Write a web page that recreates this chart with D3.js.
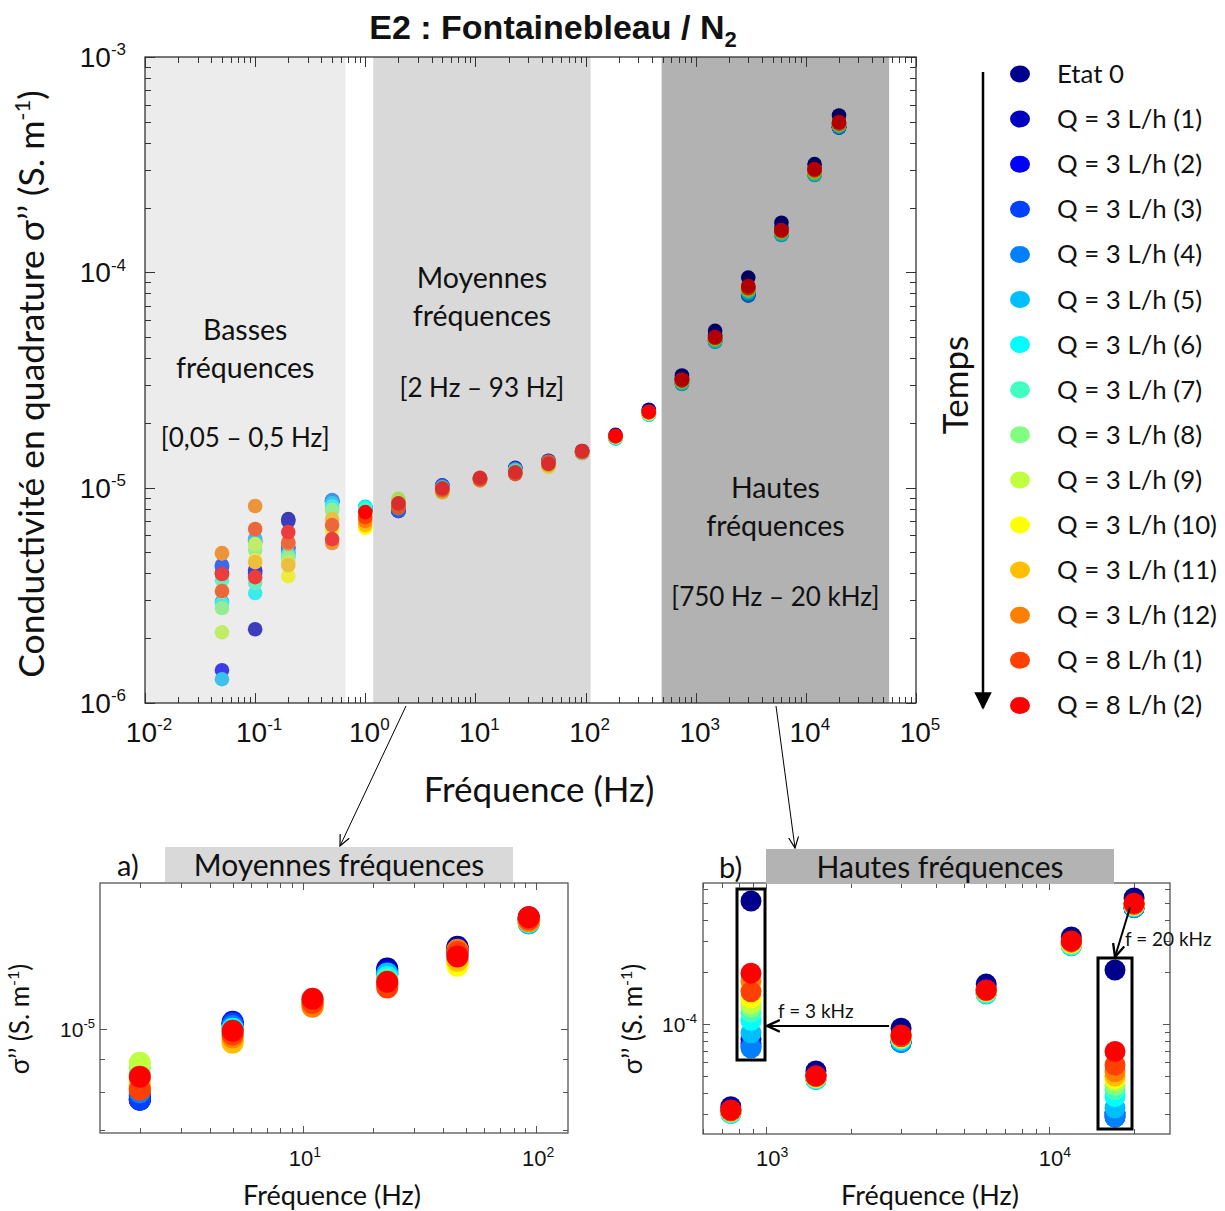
<!DOCTYPE html>
<html><head><meta charset="utf-8">
<script src="https://cdn.jsdelivr.net/npm/d3@7/dist/d3.min.js"></script>
<style>
body{margin:0;background:#fff}
svg{display:block}
text{font-family:Lato,"Open Sans",sans-serif;fill:#111}
.narrow{font-family:"Liberation Sans Narrow","Arial Narrow","Liberation Sans",sans-serif}
</style>
</head><body>
<svg id="chart" width="1225" height="1211"></svg>
<script>
// ---------------- DATA ----------------
const freqs = [0.05,0.1,0.2,0.5,1,2,5,11,23,46,93,187,375,750,1500,3000,6000,12000,20000];
const seriesNames = ["Etat 0","Q = 3 L/h (1)","Q = 3 L/h (2)","Q = 3 L/h (3)","Q = 3 L/h (4)","Q = 3 L/h (5)",
  "Q = 3 L/h (6)","Q = 3 L/h (7)","Q = 3 L/h (8)","Q = 3 L/h (9)","Q = 3 L/h (10)","Q = 3 L/h (11)",
  "Q = 3 L/h (12)","Q = 8 L/h (1)","Q = 8 L/h (2)"];
const seriesColors = ["#00008c","#0000bf","#0000ff","#0040ff","#0080ff","#00bfff","#00ffff","#40ffbf",
  "#80ff80","#bfff40","#ffff00","#ffbf00","#ff8000","#ff4000","#ff0000"];

const etat0 = [4.0e-6,4.14e-6,7.14e-6,8.6e-6,7.9e-6,7.9e-6,1.02e-5,1.10e-5,1.236e-5,1.334e-5,1.48e-5,1.76e-5,2.30e-5,3.32e-5,5.35e-5,9.45e-5,1.70e-4,3.18e-4,5.35e-4];
const q3_1  = [4.3e-6,2.2e-6,7.0e-6,8.7e-6,7.9e-6,7.8e-6,1.02e-5,1.10e-5,1.23e-5,1.33e-5,1.47e-5,1.74e-5,2.27e-5,3.22e-5,5.10e-5,7.90e-5,1.60e-4,3.00e-4,4.72e-4];
const q3_2  = [1.42e-6,4.0e-6,5.3e-6,8.6e-6,7.9e-6,7.8e-6,1.025e-5,1.10e-5,1.22e-5,1.32e-5,1.47e-5,1.73e-5,2.25e-5,3.15e-5,4.95e-5,7.85e-5,1.55e-4,2.92e-4,4.71e-4];
const q3_3  = [4.37e-6,5.6e-6,5.24e-6,8.7e-6,8.0e-6,7.79e-6,1.02e-5,1.10e-5,1.21e-5,1.31e-5,1.47e-5,1.72e-5,2.23e-5,3.10e-5,4.85e-5,7.82e-5,1.52e-4,2.88e-4,4.70e-4];
const q3_4  = [2.95e-6,5.71e-6,5.0e-6,8.75e-6,8.1e-6,8.0e-6,1.01e-5,1.10e-5,1.21e-5,1.30e-5,1.45e-5,1.70e-5,2.20e-5,3.05e-5,4.78e-5,7.80e-5,1.50e-4,2.85e-4,4.70e-4];
const q3_5  = [1.29e-6,5.8e-6,4.9e-6,8.48e-6,8.15e-6,8.2e-6,1.0e-5,1.10e-5,1.215e-5,1.29e-5,1.45e-5,1.69e-5,2.18e-5,3.03e-5,4.76e-5,7.97e-5,1.49e-4,2.83e-4,4.74e-4];
const q3_6  = [2.91e-6,3.24e-6,4.8e-6,8.2e-6,8.1e-6,8.3e-6,1.0e-5,1.10e-5,1.20e-5,1.28e-5,1.455e-5,1.70e-5,2.19e-5,3.05e-5,4.80e-5,8.11e-5,1.50e-4,2.85e-4,4.79e-4];
const q3_7  = [3.72e-6,3.61e-6,4.86e-6,7.9e-6,7.9e-6,8.5e-6,9.9e-6,1.10e-5,1.19e-5,1.27e-5,1.46e-5,1.71e-5,2.20e-5,3.08e-5,4.85e-5,8.20e-5,1.52e-4,2.88e-4,4.82e-4];
const q3_8  = [2.76e-6,5.13e-6,4.7e-6,7.87e-6,7.6e-6,8.7e-6,9.8e-6,1.10e-5,1.18e-5,1.26e-5,1.46e-5,1.72e-5,2.21e-5,3.10e-5,4.88e-5,8.26e-5,1.53e-4,2.90e-4,4.84e-4];
const q3_9  = [2.13e-6,5.47e-6,4.5e-6,6.4e-6,7.2e-6,8.87e-6,9.6e-6,1.10e-5,1.18e-5,1.255e-5,1.46e-5,1.72e-5,2.22e-5,3.12e-5,4.90e-5,8.30e-5,1.54e-4,2.92e-4,4.86e-4];
const q3_10 = [3.3e-6,4.6e-6,3.88e-6,6.35e-6,6.5e-6,8.3e-6,9.55e-6,1.09e-5,1.17e-5,1.248e-5,1.46e-5,1.72e-5,2.22e-5,3.13e-5,4.92e-5,8.36e-5,1.55e-4,2.94e-4,4.87e-4];
const q3_11 = [4.95e-6,4.51e-6,4.37e-6,7.14e-6,6.7e-6,8.2e-6,9.52e-6,1.085e-5,1.17e-5,1.27e-5,1.46e-5,1.73e-5,2.23e-5,3.14e-5,4.94e-5,8.45e-5,1.55e-4,2.96e-4,4.88e-4];
const q3_12 = [4.97e-6,8.22e-6,5.5e-6,5.53e-6,7.0e-6,8.1e-6,9.7e-6,1.081e-5,1.17e-5,1.32e-5,1.46e-5,1.73e-5,2.24e-5,3.15e-5,4.96e-5,8.55e-5,1.56e-4,2.98e-4,4.90e-4];
const q8_1  = [3.31e-6,6.43e-6,5.59e-6,6.70e-6,7.3e-6,8.07e-6,9.8e-6,1.095e-5,1.156e-5,1.31e-5,1.47e-5,1.73e-5,2.24e-5,3.15e-5,4.97e-5,8.43e-5,1.56e-4,2.99e-4,4.93e-4];
const q8_2  = [3.97e-6,3.84e-6,6.22e-6,5.77e-6,7.7e-6,8.45e-6,9.93e-6,1.111e-5,1.18e-5,1.29e-5,1.48e-5,1.74e-5,2.25e-5,3.18e-5,5.01e-5,8.64e-5,1.57e-4,3.02e-4,4.99e-4];

const bandNames = [["Basses","fréquences"],["Moyennes","fréquences"],["Hautes","fréquences"]];
const bandRangeLabels = ["[0,05 – 0,5 Hz]","[2 Hz – 93 Hz]","[750 Hz – 20 kHz]"];
const bandLo = [0.01, 1.18, 490];
const bandHi = [0.66, 111, 57000];
const zoomFreqs = [3000, 20000];
const zoomLabels = ["f = 3 kHz","f = 20 kHz"];

const mainXTicks = [-2,-1,0,1,2,3,4,5];
const mainYTicks = [-6,-5,-4,-3];

// ---------------- DRAW ----------------
const allSeries = [etat0,q3_1,q3_2,q3_3,q3_4,q3_5,q3_6,q3_7,q3_8,q3_9,q3_10,q3_11,q3_12,q8_1,q8_2];
const svg = d3.select("#chart");
svg.append("rect").attr("width",1225).attr("height",1211).attr("fill","#fff");

function logTicks(dom){
  const out=[]; const a=Math.min(...dom), b=Math.max(...dom);
  for(let e=Math.floor(Math.log10(a)); e<=Math.ceil(Math.log10(b)); e++){
    for(let m=1;m<10;m++){ const v=m*Math.pow(10,e); if(v>=a*0.9999 && v<=b*1.0001) out.push({v,major:m===1,e}); }
  }
  return out;
}
function powText(sel, e, base, sup){
  sel.append("tspan").attr("font-size",base).text("10");
  sel.append("tspan").attr("font-size",sup).attr("dy",-base*0.42).text(e);
}
function drawFrame(g, xs, ys, maj, mnr, col){
  const [x0,x1]=xs.range(), [y0,y1]=ys.range();
  const tk=g.append("g").attr("stroke",col).attr("stroke-width",1);
  logTicks(xs.domain()).forEach(t=>{
    const p=Math.round(xs(t.v))+0.5, L=t.major?maj:mnr;
    tk.append("line").attr("x1",p).attr("x2",p).attr("y1",y0).attr("y2",y0-L);
    tk.append("line").attr("x1",p).attr("x2",p).attr("y1",y1).attr("y2",y1+L);
  });
  logTicks(ys.domain()).forEach(t=>{
    const p=Math.round(ys(t.v))+0.5, L=t.major?maj:mnr;
    tk.append("line").attr("y1",p).attr("y2",p).attr("x1",x0).attr("x2",x0+L);
    tk.append("line").attr("y1",p).attr("y2",p).attr("x1",x1).attr("x2",x1-L);
  });
  g.append("rect").attr("x",x0).attr("y",y1).attr("width",x1-x0).attr("height",y0-y1)
    .attr("fill","none").attr("stroke",col).attr("stroke-width",1.3);
}

// ---- main plot ----
const x = d3.scaleLog().domain([1e-2,1e5]).range([145,916]);
const y = d3.scaleLog().domain([1e-6,1e-3]).range([703,57]);
const gMain = svg.append("g");
allSeries.forEach((vals,i)=>{
  gMain.append("g").selectAll("circle").data(vals.map((v,j)=>({f:freqs[j],v})))
    .join("circle").attr("cx",d=>x(d.f)).attr("cy",d=>y(d.v)).attr("r",7.3).attr("fill",seriesColors[i]);
});
const bandFill = ["rgba(193,193,193,0.31)","rgba(138,138,138,0.325)","rgba(0,0,0,0.3)"];
bandLo.forEach((lo,i)=>{
  gMain.append("rect").attr("x",x(lo)).attr("y",57).attr("width",x(bandHi[i])-x(lo)).attr("height",703-57)
    .attr("fill",bandFill[i]);
});
drawFrame(gMain, x, y, 10, 6, "#333");
// band labels
bandLo.forEach((lo,i)=>{
  const cx = (x(lo)+x(bandHi[i]))/2;
  const tops = [340,288,498][i], rng=[447,397,606][i];
  gMain.append("text").attr("x",cx).attr("y",tops).attr("text-anchor","middle").attr("font-size",28.5).text(bandNames[i][0]);
  gMain.append("text").attr("x",cx).attr("y",tops+38).attr("text-anchor","middle").attr("font-size",28.5).text(bandNames[i][1]);
  gMain.append("text").attr("x",cx).attr("y",rng).attr("text-anchor","middle").attr("font-size",26).text(bandRangeLabels[i]);
});
// tick labels
mainXTicks.forEach(e=>{
  const t=gMain.append("text").attr("class","narrow").attr("x",x(Math.pow(10,e))+4).attr("y",742).attr("text-anchor","middle");
  powText(t,e,28,17);
});
mainYTicks.forEach(e=>{
  const t=gMain.append("text").attr("class","narrow").attr("x",126).attr("y",y(Math.pow(10,e))+10).attr("text-anchor","end");
  powText(t,e,28,17);
});
// title
const title = svg.append("text").attr("class","narrow").attr("x",553).attr("y",39).attr("text-anchor","middle")
  .attr("font-size",34).attr("font-weight","bold");
title.append("tspan").text("E2 : Fontainebleau / N");
title.append("tspan").attr("font-size",22).attr("dy",8).text("2");
// axis titles
svg.append("text").attr("x",539).attr("y",802).attr("text-anchor","middle").attr("font-size",35).text("Fréquence (Hz)");
const yt = svg.append("text").attr("transform","translate(44,384) rotate(-90)").attr("text-anchor","middle").attr("font-size",35.5);
yt.append("tspan").text("Conductivité en quadrature σ’’ (S. m");
yt.append("tspan").attr("font-size",22).attr("dy",-14).text("-1");
yt.append("tspan").attr("dy",14).text(")");

// ---- legend ----
const leg = svg.append("g");
seriesNames.forEach((n,i)=>{
  const yy = 74 + i*45.1;
  leg.append("ellipse").attr("cx",1020).attr("cy",yy).attr("rx",10).attr("ry",8.5).attr("fill",seriesColors[i]);
  leg.append("text").attr("x",1057).attr("y",yy+9).attr("font-size",25.8).text(n);
});
svg.append("defs").html(`
 <marker id="ahead" viewBox="0 0 10 10" refX="9" refY="5" markerWidth="7" markerHeight="7" orient="auto-start-reverse">
   <path d="M0,0 L10,5 L0,10 z" fill="#000"/></marker>
 <marker id="vhead" viewBox="0 0 12 12" refX="11" refY="6" markerWidth="12" markerHeight="12" markerUnits="userSpaceOnUse" orient="auto">
   <path d="M0,1 L11,6 L0,11" fill="none" stroke="#000" stroke-width="1.2"/></marker>
 <marker id="vhead2" viewBox="0 0 12 12" refX="11" refY="6" markerWidth="14" markerHeight="14" markerUnits="userSpaceOnUse" orient="auto">
   <path d="M0,1 L11,6 L0,11" fill="none" stroke="#000" stroke-width="2"/></marker>
 <clipPath id="clipA"><rect x="100" y="883" width="468" height="250"/></clipPath>
 <clipPath id="clipB"><rect x="703" y="883" width="467" height="251"/></clipPath>`);
svg.append("line").attr("x1",983).attr("x2",983).attr("y1",72).attr("y2",708).attr("stroke","#000").attr("stroke-width",2.5).attr("marker-end","url(#ahead)");
svg.append("text").attr("transform","translate(968,385) rotate(-90)").attr("text-anchor","middle").attr("font-size",35).text("Temps");

// connector arrows
svg.append("line").attr("x1",406).attr("y1",706).attr("x2",340).attr("y2",846).attr("stroke","#000").attr("stroke-width",1).attr("marker-end","url(#vhead)");
svg.append("line").attr("x1",776).attr("y1",706).attr("x2",795).attr("y2",848).attr("stroke","#000").attr("stroke-width",1).attr("marker-end","url(#vhead)");

// ---- subplot a ----
const xa = d3.scaleLog().domain([1.35,137]).range([100,568]);
const ya = d3.scaleLog().domain([6.93e-6,1.67e-5]).range([1133,883]);
const gA = svg.append("g");
svg.append("rect").attr("x",165).attr("y",847).attr("width",348).attr("height",35).attr("fill","#d9d9d9");
svg.append("text").attr("x",339).attr("y",876).attr("text-anchor","middle").attr("font-size",30).text("Moyennes fréquences");
svg.append("text").attr("x",117).attr("y",876).attr("font-size",29).text("a)");
const gAp = gA.append("g").attr("clip-path","url(#clipA)");
allSeries.forEach((vals,i)=>{
  gAp.append("g").selectAll("circle").data(vals.map((v,j)=>({f:freqs[j],v})).filter(d=>d.f>=2&&d.f<=93))
    .join("circle").attr("cx",d=>xa(d.f)).attr("cy",d=>ya(d.v)).attr("r",11).attr("fill",seriesColors[i]);
});
drawFrame(gA, xa, ya, 7, 5, "#555");
[1,2].forEach(e=>{ const t=gA.append("text").attr("class","narrow").attr("x",xa(Math.pow(10,e))+2).attr("y",1166).attr("text-anchor","middle"); powText(t,e,22,14); });
{ const t=gA.append("text").attr("class","narrow").attr("x",95).attr("y",ya(1e-5)+8).attr("text-anchor","end"); powText(t,-5,21,13); }
gA.append("text").attr("x",332).attr("y",1205).attr("text-anchor","middle").attr("font-size",27).text("Fréquence (Hz)");
{ const t=gA.append("text").attr("transform","translate(29,1019) rotate(-90)").attr("text-anchor","middle").attr("font-size",26);
  t.append("tspan").text("σ’’ (S. m"); t.append("tspan").attr("font-size",16).attr("dy",-10).text("-1"); t.append("tspan").attr("dy",10).text(")"); }

// ---- subplot b ----
const xb = d3.scaleLog().domain([598,26800]).range([703,1170]);
const yb = d3.scaleLog().domain([2.31e-5,6.53e-4]).range([1134,883]);
const gB = svg.append("g");
svg.append("rect").attr("x",766).attr("y",849).attr("width",348).attr("height",35).attr("fill","#b3b3b3");
svg.append("text").attr("x",940).attr("y",878).attr("text-anchor","middle").attr("font-size",30).text("Hautes fréquences");
svg.append("text").attr("x",719).attr("y",878).attr("font-size",29).text("b)");
const gBp = gB.append("g").attr("clip-path","url(#clipB)");
allSeries.forEach((vals,i)=>{
  gBp.append("g").selectAll("circle").data(vals.map((v,j)=>({f:freqs[j],v})).filter(d=>d.f>=750))
    .join("circle").attr("cx",d=>xb(d.f)).attr("cy",d=>yb(d.v)).attr("r",10.5).attr("fill",seriesColors[i]);
});
// zoom boxes: spread of all series at one frequency, stretched on a local scale
const boxes = [{cx:751, top:889, bottom:1060, w:28}, {cx:1115, top:958, bottom:1129, w:34}];
zoomFreqs.forEach((f,k)=>{
  const j = freqs.indexOf(f);
  const vals = allSeries.map(s=>s[j]);
  const bx = boxes[k];
  const ly = d3.scaleLinear().domain(d3.extent(vals)).range([bx.bottom-12, bx.top+12]);
  vals.forEach((v,i)=>{
    gB.append("circle").attr("cx",bx.cx).attr("cy",ly(v)).attr("r",10.5).attr("fill",seriesColors[i]);
  });
  gB.append("rect").attr("x",bx.cx-bx.w/2).attr("y",bx.top).attr("width",bx.w).attr("height",bx.bottom-bx.top)
    .attr("fill","none").attr("stroke","#000").attr("stroke-width",3);
});
drawFrame(gB, xb, yb, 7, 5, "#555");
// zoom arrows
{
  const j3 = freqs.indexOf(3000), j20 = freqs.indexOf(20000);
  const ay = yb(q8_2[j3]) - 9;
  gB.append("line").attr("x1",xb(3000)-12).attr("y1",ay).attr("x2",boxes[0].cx+boxes[0].w/2+2).attr("y2",ay)
    .attr("stroke","#000").attr("stroke-width",2).attr("marker-end","url(#vhead2)");
  gB.append("text").attr("x",778).attr("y",ay-8).attr("font-size",19).text(zoomLabels[0]);
  gB.append("line").attr("x1",xb(20000)-4).attr("y1",yb(q8_2[j20])+4).attr("x2",boxes[1].cx).attr("y2",boxes[1].top-1)
    .attr("stroke","#000").attr("stroke-width",2).attr("marker-end","url(#vhead2)");
  gB.append("text").attr("x",1125).attr("y",946).attr("font-size",19).text(zoomLabels[1]);
}
[3,4].forEach(e=>{ const t=gB.append("text").attr("class","narrow").attr("x",xb(Math.pow(10,e))+6).attr("y",1166).attr("text-anchor","middle"); powText(t,e,22,14); });
{ const t=gB.append("text").attr("class","narrow").attr("x",697).attr("y",yb(1e-4)+8).attr("text-anchor","end"); powText(t,-4,21,13); }
gB.append("text").attr("x",930).attr("y",1205).attr("text-anchor","middle").attr("font-size",27).text("Fréquence (Hz)");
{ const t=gB.append("text").attr("transform","translate(642,1019) rotate(-90)").attr("text-anchor","middle").attr("font-size",26);
  t.append("tspan").text("σ’’ (S. m"); t.append("tspan").attr("font-size",16).attr("dy",-10).text("-1"); t.append("tspan").attr("dy",10).text(")"); }
</script>
</body></html>
